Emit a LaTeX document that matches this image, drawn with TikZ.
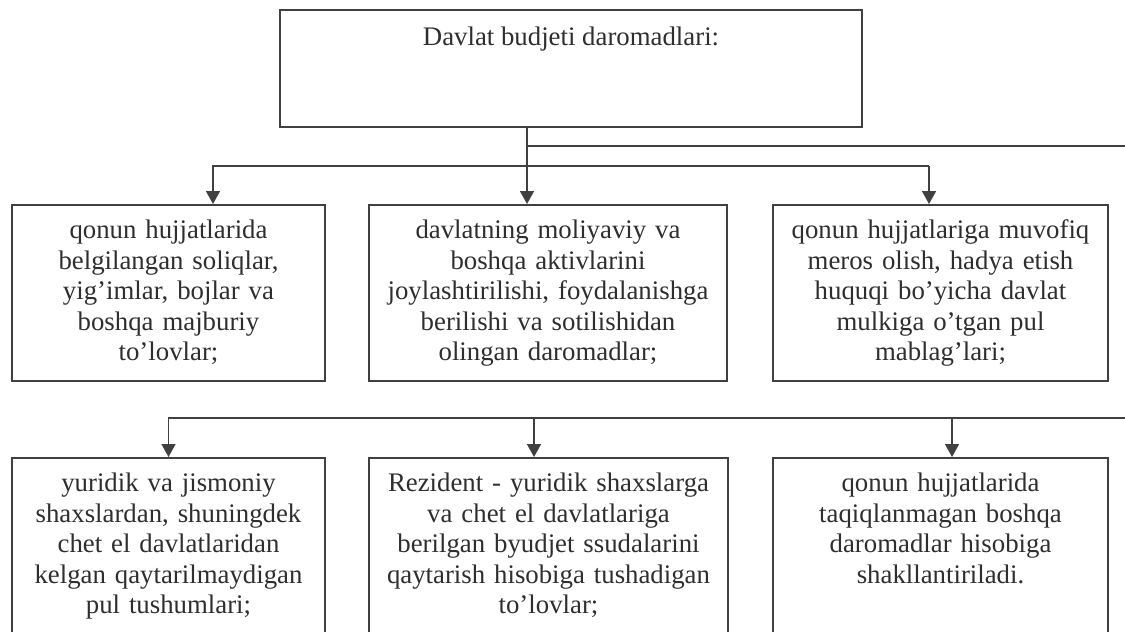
\documentclass[tikz,border=0pt]{standalone}
\usepackage{fontspec}
\setmainfont{Liberation Serif}
\usetikzlibrary{arrows.meta,positioning}
\definecolor{linegray}{HTML}{404040}
\definecolor{textgray}{HTML}{2E2E2E}
\tikzset{rootbox/.style = {rectangle, draw = linegray, line width = 1pt, minimum width = 11.64cm, inner sep = 0pt, text height = 0.72cm, text depth = 1.62cm, anchor = north, text = textgray},
	incbox/.style = {rectangle, draw = linegray, line width = 1pt, inner xsep = 0.1cm, inner ysep = 0pt, align = center, text height = 0.68cm, text depth = 2.84cm, anchor = north, text = textgray},
	feed/.style = {-{Triangle[width = 0.28cm, length = 0.26cm]}, draw = linegray, line width = 0.9pt},
	bus/.style = {draw = linegray, line width = 0.9pt}}
\begin{document}
\begin{tikzpicture}[font = \fontsize{15.25pt}{17.3pt}\selectfont]

 \useasboundingbox (0,0) rectangle (22.5,-12.62);
 \clip (0,0) rectangle (22.5,-12.62);

 \node (root) at (11.42,-0.18) [rootbox] {Davlat budjeti daromadlari:};

 % first row
 \node (inc1) at (3.37,-4.08) [incbox, text width = 6.06cm] {qonun hujjatlarida\\ belgilangan soliqlar,\\ yig’imlar, bojlar va\\ boshqa majburiy\\ to’lovlar;};
 \node (inc2) at (10.96,-4.08) [incbox, text width = 6.96cm] {davlatning moliyaviy va\\ boshqa aktivlarini\\ joylashtirilishi, foydalanishga\\ berilishi va sotilishidan\\ olingan daromadlar;};
 \node (inc3) at (18.81,-4.08) [incbox, text width = 6.50cm] {qonun hujjatlariga muvofiq\\ meros olish, hadya etish\\ huquqi bo’yicha davlat\\ mulkiga o’tgan pul\\ mablag’lari;};

 % second row
 \node (inc4) at (3.37,-9.14) [incbox, text width = 6.06cm] {yuridik va jismoniy\\ shaxslardan, shuningdek\\ chet el davlatlaridan\\ kelgan qaytarilmaydigan\\ pul tushumlari;};
 \node (inc5) at (10.97,-9.14) [incbox, text width = 6.98cm] {Rezident - yuridik shaxslarga\\ va chet el davlatlariga\\ berilgan byudjet ssudalarini\\ qaytarish hisobiga tushadigan\\ to’lovlar;};
 \node (inc6) at (18.81,-9.14) [incbox, text width = 6.50cm] {qonun hujjatlarida\\ taqiqlanmagan boshqa\\ daromadlar hisobiga\\ shakllantiriladi.};

 % connectors from the root
 \coordinate (trunk) at (10.54,-2.52);
 \coordinate (lineA) at (22.5,-2.92);
 \coordinate (busL) at (4.26,-3.32);
 \coordinate (busR) at (18.58,-3.32);
 \draw [feed] (trunk) -- (trunk |- inc2.north);
 \draw [bus] (trunk |- lineA) -- (lineA);
 \draw [feed] (busR) -- (busL) -- (busL |- inc1.north);
 \draw [feed] (busR) -- (busR |- inc3.north);

 % connectors of the second row
 \coordinate (lineB) at (22.5,-8.36);
 \coordinate (dropB) at (10.68,-8.36);
 \coordinate (dropC) at (19.04,-8.36);
 \draw [feed] (lineB) -- (inc4.north |- lineB) -- (inc4.north);
 \draw [feed] (dropB) -- (dropB |- inc5.north);
 \draw [feed] (dropC) -- (dropC |- inc6.north);

\end{tikzpicture}
\end{document}
